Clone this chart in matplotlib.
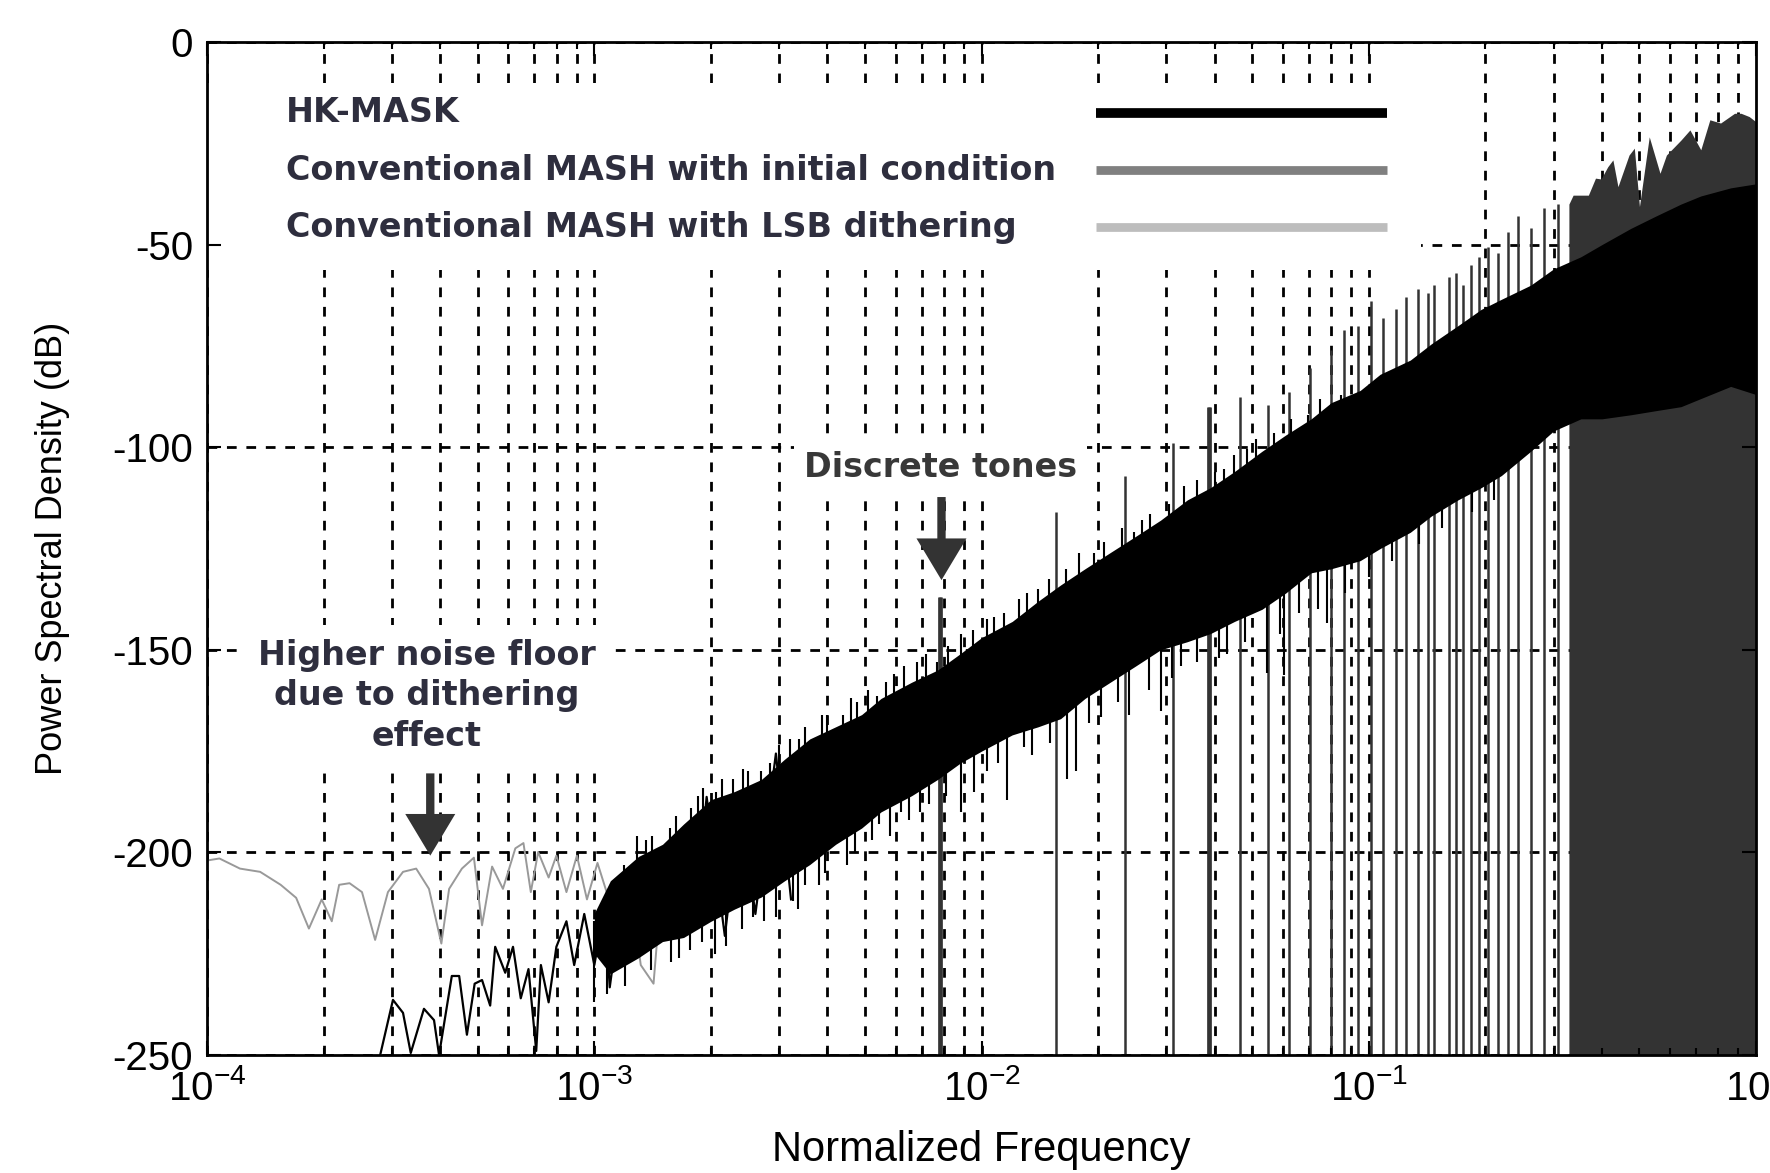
import numpy as np
import matplotlib
matplotlib.use("Agg")
import matplotlib.pyplot as plt
from matplotlib.ticker import LogLocator, NullFormatter
from matplotlib.patches import Rectangle

# ---- data (frequency normalised, PSD in dB) ----

# LSB-dithered MASH, visible part at low frequency (thin grey trace)
dith_f = [1.00e-4, 1.076e-4, 1.216e-4, 1.371e-4, 1.549e-4, 1.698e-4, 1.832e-4, 1.977e-4,
          2.099e-4, 2.193e-4, 2.333e-4, 2.512e-4, 2.716e-4, 2.931e-4, 3.206e-4, 3.467e-4,
          3.741e-4, 4.027e-4, 4.217e-4, 4.550e-4, 4.887e-4, 5.129e-4, 5.445e-4, 5.808e-4,
          6.252e-4, 6.561e-4, 6.855e-4, 7.161e-4, 7.621e-4, 7.980e-4, 8.472e-4, 9.016e-4,
          9.572e-4, 1.019e-3, 1.114e-3, 1.222e-3, 1.318e-3, 1.422e-3, 1.514e-3, 1.706e-3,
          1.811e-3, 2.042e-3, 2.312e-3]
dith_db = [-202, -201.5, -204, -204.8, -208, -211.2, -218.8, -211.6, -217, -208, -207.6,
           -209.8, -221.6, -209.8, -204.8, -204, -209, -222.5, -209, -204, -201.3, -218,
           -203.5, -209, -199, -197.7, -209.8, -199.9, -206.2, -200.8, -209.8, -200.8,
           -211.6, -202.6, -214.4, -204.3, -227.8, -232.4, -200.8, -195.4, -200.8, -193.6,
           -195.4]

# HK-MASK, thin trace at low frequency
hk_f = [2.799e-4, 3.020e-4, 3.206e-4, 3.357e-4, 3.631e-4, 3.855e-4, 3.972e-4, 4.285e-4,
        4.477e-4, 4.688e-4, 4.909e-4, 5.129e-4, 5.383e-4, 5.546e-4, 5.888e-4, 6.166e-4,
        6.457e-4, 6.761e-4, 7.079e-4, 7.278e-4, 7.621e-4, 7.980e-4, 8.472e-4, 8.872e-4,
        9.419e-4, 1.000e-3, 1.064e-3, 1.096e-3, 1.183e-3, 1.259e-3, 1.380e-3, 1.514e-3,
        1.652e-3, 1.811e-3, 1.950e-3, 2.173e-3, 2.382e-3, 2.606e-3, 2.944e-3, 3.221e-3]
hk_db = [-250, -236.4, -239.6, -249.5, -238.6, -241.4, -250, -230.5, -230.5, -245, -232.4,
         -231.5, -237.8, -223.3, -229.7, -223.3, -236, -228.8, -249, -227.8, -237, -223.3,
         -217, -227.8, -215.2, -227.8, -213.5, -233.3, -209.8, -223.3, -200.8, -217, -196.3,
         -218.9, -186.3, -220.6, -188.2, -215.2, -175.6, -211.6]

# HK-MASK dense noise band: upper / lower edge
band_f = [1.0e-3, 1.1e-3, 1.3e-3, 1.5e-3, 1.7e-3, 2.0e-3, 2.3e-3, 2.7e-3, 3.1e-3, 3.6e-3,
          4.2e-3, 4.9e-3, 5.5e-3, 6.6e-3, 7.7e-3, 8.8e-3, 1.0e-2, 1.2e-2, 1.4e-2, 1.6e-2,
          1.85e-2, 2.15e-2, 2.5e-2, 2.9e-2, 3.4e-2, 3.9e-2, 4.5e-2, 5.3e-2, 6.1e-2, 7.1e-2,
          8.0e-2, 9.5e-2, 0.107, 0.128, 0.145, 0.17, 0.195, 0.22, 0.262, 0.30, 0.353, 0.40,
          0.475, 0.55, 0.64, 0.72, 0.86, 1.0]
band_up = [-215, -207, -201, -198, -193, -187, -185, -182, -177, -172, -169, -166, -162,
           -158, -155, -151, -147, -143, -138, -134, -130, -126, -122, -118, -113, -110,
           -106, -101, -97, -93, -89, -86, -82, -78.5, -74.5, -70, -66, -63.5, -60, -56,
           -53, -50, -46, -43, -40, -38, -36, -35]
band_lo = [-225, -230, -226, -222, -221, -217, -214, -211, -207, -203, -198, -194, -190,
           -186, -182, -178, -175, -171, -169, -167, -162, -158, -154, -150, -148, -146,
           -143, -140, -136, -131, -130, -128, -125, -121, -117, -113, -110, -107, -101,
           -96, -93, -93, -92, -91, -90, -88, -85, -87]

# spikes sticking out of the band
up_spk_f = [1.19e-3, 1.29e-3, 1.36e-3, 1.41e-3, 1.57e-3, 1.63e-3, 1.78e-3, 1.85e-3, 1.91e-3,
            2.06e-3, 2.14e-3, 2.28e-3, 2.42e-3, 2.5e-3, 2.69e-3, 2.85e-3, 3.0e-3, 3.2e-3,
            3.37e-3, 3.5e-3, 3.87e-3, 4.0e-3, 4.4e-3, 4.6e-3, 4.77e-3, 5.1e-3, 5.37e-3,
            5.65e-3, 5.93e-3, 6.3e-3, 6.83e-3, 7.2e-3, 7.69e-3, 8.2e-3, 8.84e-3, 9.5e-3,
            1.035e-2, 1.08e-2, 1.14e-2, 1.25e-2, 1.31e-2, 1.4e-2, 1.49e-2, 1.65e-2, 1.78e-2,
            1.95e-2, 2.07e-2, 2.3e-2, 2.47e-2, 2.6e-2, 2.73e-2, 3.05e-2, 3.33e-2, 3.6e-2,
            4.0e-2, 4.22e-2, 4.5e-2, 4.86e-2, 5.1e-2, 5.69e-2, 6.3e-2, 6.95e-2, 7.5e-2,
            8.47e-2]
up_spk_db = [-203, -196, -197, -196, -194, -191, -189, -186, -184, -185, -182, -182, -179.5,
             -180, -180, -178, -173.5, -172, -172, -169, -166, -166, -166, -162, -163, -160,
             -161.5, -158, -156, -154, -153, -151, -153, -149, -146, -145, -142.5, -142,
             -141, -137.5, -136, -135, -132.5, -130, -126, -126, -123.5, -120, -121, -118,
             -116.5, -114, -109.5, -108, -106, -105.5, -102, -100.5, -98, -96.5, -93, -92,
             -88, -87]
lo_spk_f = [1.0e-3, 1.08e-3, 1.2e-3, 1.4e-3, 1.58e-3, 1.65e-3, 1.77e-3, 1.9e-3, 2.05e-3,
            2.19e-3, 2.4e-3, 2.57e-3, 2.75e-3, 2.94e-3, 3.25e-3, 3.35e-3, 3.51e-3, 3.8e-3,
            3.95e-3, 4.5e-3, 4.7e-3, 5.2e-3, 5.45e-3, 5.8e-3, 6.18e-3, 6.5e-3, 6.95e-3,
            7.3e-3, 8.1e-3, 8.84e-3, 9.55e-3, 1.03e-2, 1.1e-2, 1.16e-2, 1.29e-2, 1.35e-2,
            1.5e-2, 1.66e-2, 1.75e-2, 1.9e-2, 2.03e-2, 2.25e-2, 2.4e-2, 2.7e-2, 2.9e-2,
            3.1e-2, 3.27e-2, 3.6e-2, 4.1e-2, 4.31e-2, 4.8e-2, 5.47e-2, 5.9e-2, 6.03e-2,
            6.6e-2, 7.4e-2, 7.82e-2, 8.7e-2, 0.1, 0.115, 0.135, 0.155, 0.185, 0.21]
lo_spk_db = [-237, -235, -233, -229, -227, -226, -224, -222, -225, -223, -219, -216, -217,
             -216, -212, -214, -208, -208, -205, -203, -200, -197, -193, -196, -190, -192,
             -190, -188, -186, -190, -185, -180, -178, -187, -174, -176, -173, -182, -180,
             -168, -166.5, -163, -166, -160, -165, -157, -154, -153, -152, -151, -148,
             -155.7, -146, -156.2, -141, -140, -143.4, -136, -132, -128, -124, -120, -116,
             -113]

# discrete tones (dark grey vertical lines from the floor)
tone_f = [0.0078, 0.0156, 0.0234, 0.0313, 0.0386, 0.0464, 0.0548, 0.0621, 0.0704, 0.0798,
          0.0861, 0.0937, 0.1012, 0.1087, 0.1174, 0.1246, 0.1338, 0.1421, 0.1472, 0.1609,
          0.1678, 0.1749, 0.1835, 0.1924, 0.2030, 0.2154, 0.2287, 0.2427, 0.2622, 0.2833,
          0.3079]
tone_top = [-137, -116, -107, -99, -90, -87.5, -89.5, -86.5, -80.5, -76, -71, -70, -64, -68,
            -66, -63, -61, -62, -60, -58, -57, -60, -55, -53, -50.5, -52, -47, -43, -46, -41,
            -40]

# conventional MASH with initial condition, filled part at high frequency
hf_f = [0.3287, 0.337, 0.346, 0.369, 0.385, 0.398, 0.414, 0.427, 0.44, 0.47, 0.485, 0.50,
        0.53, 0.565, 0.587, 0.64, 0.675, 0.72, 0.76, 0.81, 0.88, 0.915, 0.96, 1.0]
hf_top = [-40, -37.8, -37.8, -37.8, -33.6, -33.8, -30.8, -29.1, -35.7, -27.9, -26.2, -40.6,
          -23.4, -32.4, -27.9, -24.2, -21.7, -26.6, -19.2, -20, -17.6, -17.6, -18.4, -19.7]

legend_labels = ["HK-MASK", "Conventional MASH with initial condition",
                 "Conventional MASH with LSB dithering"]
legend_colors = ["#000000", "#808080", "#bdbdbd"]

# ---- figure ----
plt.rcParams["font.family"] = ["Liberation Sans", "DejaVu Sans"]
plt.rcParams["mathtext.default"] = "regular"
plt.rcParams["axes.unicode_minus"] = False

fig = plt.figure(figsize=(17.7, 11.73), dpi=100)
ax = fig.add_axes([0.117, 0.1006, 0.8751, 0.8636])
ax.set_xscale("log")
ax.set_xlim(1e-4, 1)
ax.set_ylim(-250, 0)

# dashed grid, drawn by hand so the white boxes can hide it
grid_kw = dict(color="black", lw=2.0, ls=(0, (3.5, 3.5)), zorder=0.5)
for dec in [1e-4, 1e-3, 1e-2, 1e-1]:
    for m in range(1, 10):
        ax.axvline(dec * m, **grid_kw)
for v in range(-250, 1, 50):
    ax.axhline(v, **grid_kw)

ax.add_patch(Rectangle((0, 0.775), 0.7836, 0.1845, transform=ax.transAxes,
                       fc="white", ec="none", zorder=0.8))

# traces
ax.vlines(tone_f, -250, tone_top, color="#333333", lw=1.8, zorder=1)
ax.vlines([tone_f[0], tone_f[4]], -250, [tone_top[0], tone_top[4]],
          color="#333333", lw=3.4, zorder=1)
ax.fill_between(hf_f, -250, hf_top, color="#333333", lw=0, zorder=1)
ax.plot(dith_f, dith_db, color="#999999", lw=1.4, zorder=2)
ax.plot(hk_f, hk_db, color="black", lw=1.6, zorder=3)
ax.fill_between(band_f, band_lo, band_up, color="black", lw=0, zorder=3)
ax.vlines(up_spk_f, np.array(up_spk_db) - 20, up_spk_db, color="black", lw=1.5, zorder=3)
ax.vlines(lo_spk_f, lo_spk_db, np.array(lo_spk_db) + 20, color="black", lw=1.5, zorder=3)

# legend drawn as in the original figure
txt_color = "#2e2e3e"
for i, (lab, col) in enumerate(zip(legend_labels, legend_colors)):
    yy = 0.930 - i * 0.0565
    ax.text(0.051, yy, lab, transform=ax.transAxes, ha="left", va="center",
            fontsize=24, fontweight="bold", color=txt_color, family="DejaVu Sans",
            zorder=5)
    ax.plot([0.5736, 0.7616], [yy, yy], transform=ax.transAxes, color=col,
            lw=7 if i == 0 else 6.3, solid_capstyle="butt", zorder=5)

# annotations
ax.text(7.83e-3, -104.9, "Discrete tones", ha="center", va="center", fontsize=24,
        fontweight="bold", color="#383838", family="DejaVu Sans",
        bbox=dict(boxstyle="square,pad=0.3", fc="white", ec="none"), zorder=5)
ax.annotate("", xy=(7.88e-3, -132.8), xytext=(7.88e-3, -112.3),
            arrowprops=dict(facecolor="#333333", edgecolor="none", width=6,
                            headwidth=36, headlength=30, shrink=0), zorder=6)

ax.text(3.70e-4, -161.4, "Higher noise floor\ndue to dithering\neffect", ha="center",
        va="center", multialignment="center", linespacing=1.3, fontsize=24,
        fontweight="bold", color=txt_color, family="DejaVu Sans",
        bbox=dict(boxstyle="square,pad=0.4", fc="white", ec="none"), zorder=5)
ax.annotate("", xy=(3.77e-4, -200.8), xytext=(3.77e-4, -180.5),
            arrowprops=dict(facecolor="#333333", edgecolor="none", width=6,
                            headwidth=36, headlength=30, shrink=0), zorder=6)

# axes styling
ax.set_yticks(range(-250, 1, 50))
ax.xaxis.set_major_locator(LogLocator(base=10, numticks=10))
ax.xaxis.set_minor_locator(LogLocator(base=10, subs=np.arange(2, 10) * 1.0, numticks=40))
ax.xaxis.set_minor_formatter(NullFormatter())
ax.tick_params(which="both", direction="in", top=True, right=True, width=1.5,
               labelsize=29, pad=10)
ax.tick_params(which="major", length=10)
ax.tick_params(which="minor", length=5)
for s in ax.spines.values():
    s.set_linewidth(2)
    s.set_zorder(7)

ax.set_xlabel("Normalized Frequency", fontsize=30)
ax.set_ylabel("Power Spectral Density (dB)", fontsize=26)
ax.xaxis.set_label_coords(0.5, -0.074)
ax.yaxis.set_label_coords(-0.0885, 0.5)

fig.savefig("out.png", dpi=100)
